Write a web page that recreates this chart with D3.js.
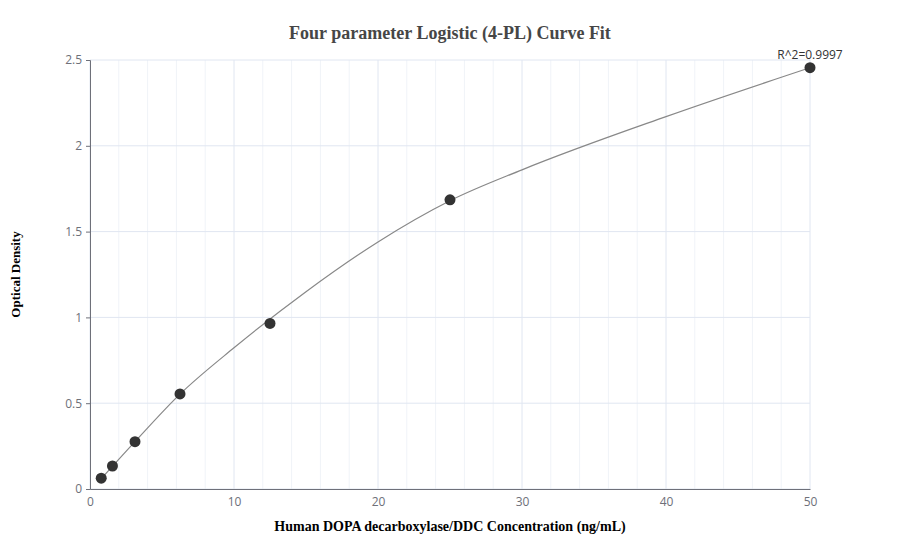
<!DOCTYPE html>
<meta charset="utf-8">
<script src="https://d3js.org/d3.v7.min.js"></script>
<style>
  body { margin: 0; background: #fff; }
</style>
<body>
  <div id="container"></div>
</body>
<script>
    // standard points (concentration ng/mL, OD)
    var concentrations = [0.78, 1.56, 3.125, 6.25, 12.5, 25, 50];
    var odValues = [0.063, 0.134, 0.276, 0.554, 0.965, 1.685, 2.455];

    // fitted curve
    var curveX = [0.78, 3.125, 6.25, 10, 15, 20, 25, 30, 40, 50];
    var curveY = [0.06, 0.276, 0.553, 0.823, 1.15, 1.44, 1.68, 1.86, 2.17, 2.455];

    var xTicks = [0, 10, 20, 30, 40, 50];
    var xMinor = [2, 4, 6, 8, 12, 14, 16, 18, 22, 24, 26, 28, 32, 34, 36, 38, 42, 44, 46, 48];
    var yTicks = [0, 0.5, 1, 1.5, 2, 2.5];
    var r2Label = "R^2=0.9997";

    var W = 900, H = 560;
    var margin = {top: 60, right: 90, bottom: 71, left: 90},
        width = W - margin.left - margin.right,
        height = H - margin.top - margin.bottom;

    var svg = d3.select("#container")
      .append("svg")
      .attr("width", W)
      .attr("height", H);

    var g = svg.append("g")
      .attr("transform", "translate(" + margin.left + "," + margin.top + ")");

    var x = d3.scaleLinear().domain([0, 50]).range([0, width]);
    var y = d3.scaleLinear().domain([0, 2.5]).range([height, 0]);

    // minor vertical grid
    g.append("g").selectAll("line")
      .data(xMinor).enter().append("line")
      .attr("x1", function(d) { return x(d); })
      .attr("x2", function(d) { return x(d); })
      .attr("y1", 0).attr("y2", height)
      .style("stroke", "#f0f3f8").style("stroke-width", 1);

    // major grid
    g.append("g").selectAll("line")
      .data(xTicks).enter().append("line")
      .attr("x1", function(d) { return x(d); })
      .attr("x2", function(d) { return x(d); })
      .attr("y1", 0).attr("y2", height)
      .style("stroke", "#e0e6f1").style("stroke-width", 1);
    g.append("g").selectAll("line")
      .data(yTicks).enter().append("line")
      .attr("x1", 0).attr("x2", width)
      .attr("y1", function(d) { return y(d); })
      .attr("y2", function(d) { return y(d); })
      .style("stroke", "#e0e6f1").style("stroke-width", 1);

    // X axis
    var xAxis = g.append("g")
      .attr("transform", "translate(0," + height + ")")
      .call(d3.axisBottom(x).tickValues(xTicks).tickSize(0).tickPadding(8));
    xAxis.select(".domain").style("stroke", "#6e7079");
    xAxis.selectAll("text")
      .style("font-family", "'Open Sans', sans-serif")
      .style("font-size", "12px")
      .style("fill", "#6e7079");

    // Y axis
    var yAxis = g.append("g")
      .call(d3.axisLeft(y).tickValues(yTicks).tickSize(4).tickPadding(4)
        .tickFormat(function(d) { return d3.format("")(d); }));
    yAxis.select(".domain").style("stroke", "#6e7079");
    yAxis.selectAll(".tick line").style("stroke", "#6e7079");
    yAxis.selectAll("text")
      .style("font-family", "'Open Sans', sans-serif")
      .style("font-size", "12px")
      .style("fill", "#6e7079");

    // fitted curve
    var pts = curveX.map(function(d, i) { return [d, curveY[i]]; });
    g.append("path")
      .datum(pts)
      .attr("d", d3.line()
        .x(function(d) { return x(d[0]); })
        .y(function(d) { return y(d[1]); })
        .curve(d3.curveMonotoneX))
      .style("fill", "none")
      .style("stroke", "#888")
      .style("stroke-width", 1.2);

    // dots
    g.append("g").selectAll("circle")
      .data(concentrations).enter().append("circle")
      .attr("cx", function(d) { return x(d); })
      .attr("cy", function(d, i) { return y(odValues[i]); })
      .attr("r", 5.5)
      .style("fill", "#333");

    // R^2 label
    g.append("text")
      .attr("x", x(50))
      .attr("y", y(odValues[6]) - 9)
      .attr("text-anchor", "middle")
      .style("font-family", "'Open Sans', sans-serif")
      .style("font-size", "12px")
      .style("fill", "#333")
      .text(r2Label);

    // title
    svg.append("text")
      .attr("x", W / 2)
      .attr("y", 39)
      .attr("text-anchor", "middle")
      .style("font-family", "'Liberation Serif', 'Times New Roman', serif")
      .style("font-weight", "bold")
      .style("font-size", "18px")
      .style("fill", "#464646")
      .text("Four parameter Logistic (4-PL) Curve Fit");

    // axis labels
    svg.append("text")
      .attr("x", W / 2)
      .attr("y", 531)
      .attr("text-anchor", "middle")
      .style("font-family", "'Liberation Serif', 'Times New Roman', serif")
      .style("font-weight", "bold")
      .style("font-size", "14px")
      .style("fill", "#000")
      .text("Human DOPA decarboxylase/DDC Concentration (ng/mL)");

    svg.append("text")
      .attr("transform", "translate(20," + (margin.top + height / 2) + ") rotate(-90)")
      .attr("text-anchor", "middle")
      .style("font-family", "'Liberation Serif', 'Times New Roman', serif")
      .style("font-weight", "bold")
      .style("font-size", "13px")
      .style("fill", "#000")
      .text("Optical Density");
</script>
